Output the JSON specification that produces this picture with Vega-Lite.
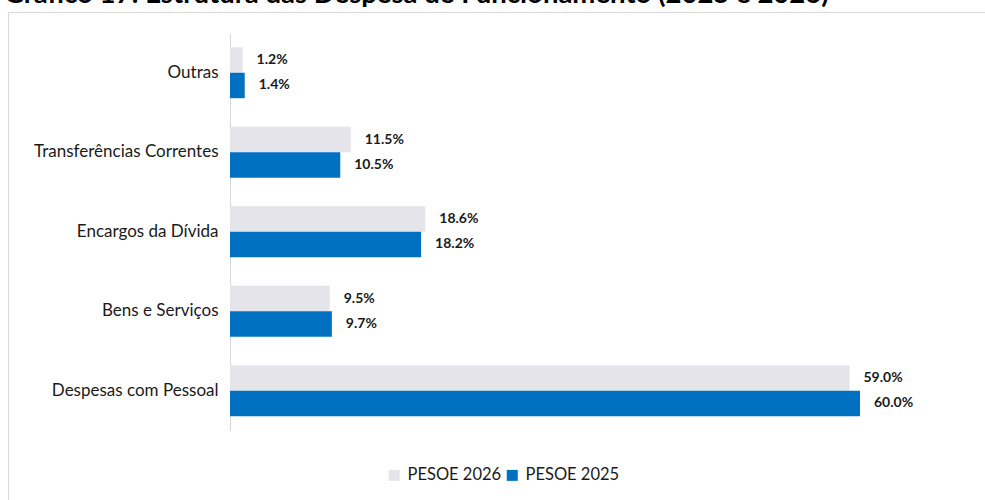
{
  "$schema": "https://vega.github.io/schema/vega-lite/v6.json",
  "width": 1000,
  "height": 500,
  "autosize": {"type": "none"},
  "padding": {"left": 8, "top": 12, "right": 0, "bottom": 0},
  "background": "white",
  "title": {
    "text": "Gráfico 17: Estrutura das Despesa de Funcionamento (2025 e 2026)",
    "anchor": "start",
    "frame": "group",
    "dx": -4,
    "dy": 18,
    "offset": 0,
    "baseline": "alphabetic",
    "font": "Lato",
    "fontSize": 27.5,
    "fontWeight": "bold",
    "color": "#000000"
  },
  "config": {
    "view": {"stroke": "#d9d9d9", "strokeWidth": 1},
    "font": "Lato"
  },
  "data": {
    "values": [
      {"category": "Outras", "series": "PESOE 2026", "value": 1.2, "label": "1.2%"},
      {"category": "Outras", "series": "PESOE 2025", "value": 1.4, "label": "1.4%"},
      {"category": "Transferências Correntes", "series": "PESOE 2026", "value": 11.5, "label": "11.5%"},
      {"category": "Transferências Correntes", "series": "PESOE 2025", "value": 10.5, "label": "10.5%"},
      {"category": "Encargos da Dívida", "series": "PESOE 2026", "value": 18.6, "label": "18.6%"},
      {"category": "Encargos da Dívida", "series": "PESOE 2025", "value": 18.2, "label": "18.2%"},
      {"category": "Bens e Serviços", "series": "PESOE 2026", "value": 9.5, "label": "9.5%"},
      {"category": "Bens e Serviços", "series": "PESOE 2025", "value": 9.7, "label": "9.7%"},
      {"category": "Despesas com Pessoal", "series": "PESOE 2026", "value": 59.0, "label": "59.0%"},
      {"category": "Despesas com Pessoal", "series": "PESOE 2025", "value": 60.0, "label": "60.0%"}
    ]
  },
  "encoding": {
    "y": {
      "field": "category",
      "type": "nominal",
      "sort": ["Outras", "Transferências Correntes", "Encargos da Dívida", "Bens e Serviços", "Despesas com Pessoal"],
      "scale": {"range": [21, 418.5], "paddingInner": 0.36, "paddingOuter": 0.18},
      "axis": {
        "title": null,
        "offset": -222,
        "ticks": false,
        "grid": false,
        "domainColor": "#d9d9d9",
        "domainWidth": 1,
        "labelPadding": 12,
        "labelFontSize": 17,
        "labelFont": "Lato",
        "labelColor": "#1a1a1a",
        "labelLimit": 400
      }
    },
    "yOffset": {
      "field": "series",
      "type": "nominal",
      "sort": ["PESOE 2026", "PESOE 2025"]
    },
    "x": {
      "field": "value",
      "type": "quantitative",
      "scale": {"domain": [-21.143, 74.095], "nice": false, "zero": false},
      "axis": null
    }
  },
  "layer": [
    {
      "mark": {"type": "bar"},
      "encoding": {
        "color": {
          "field": "series",
          "type": "nominal",
          "scale": {"domain": ["PESOE 2026", "PESOE 2025"], "range": ["#E4E4EA", "#0070C0"]},
          "legend": {
            "title": null,
            "orient": "none",
            "direction": "horizontal",
            "legendX": 378,
            "legendY": 455,
            "symbolType": "square",
            "symbolSize": 121,
            "symbolStrokeWidth": 0,
            "labelFontSize": 16.5,
            "labelFont": "Lato",
            "labelColor": "#1a1a1a",
            "labelOffset": 5,
            "columnPadding": 2
          }
        }
      }
    },
    {
      "mark": {"type": "text", "align": "left", "baseline": "middle", "dx": 14, "font": "Lato", "fontSize": 14, "fontWeight": "bold", "color": "#1a1a1a"},
      "encoding": {
        "text": {"field": "label", "type": "nominal"}
      }
    }
  ]
}
